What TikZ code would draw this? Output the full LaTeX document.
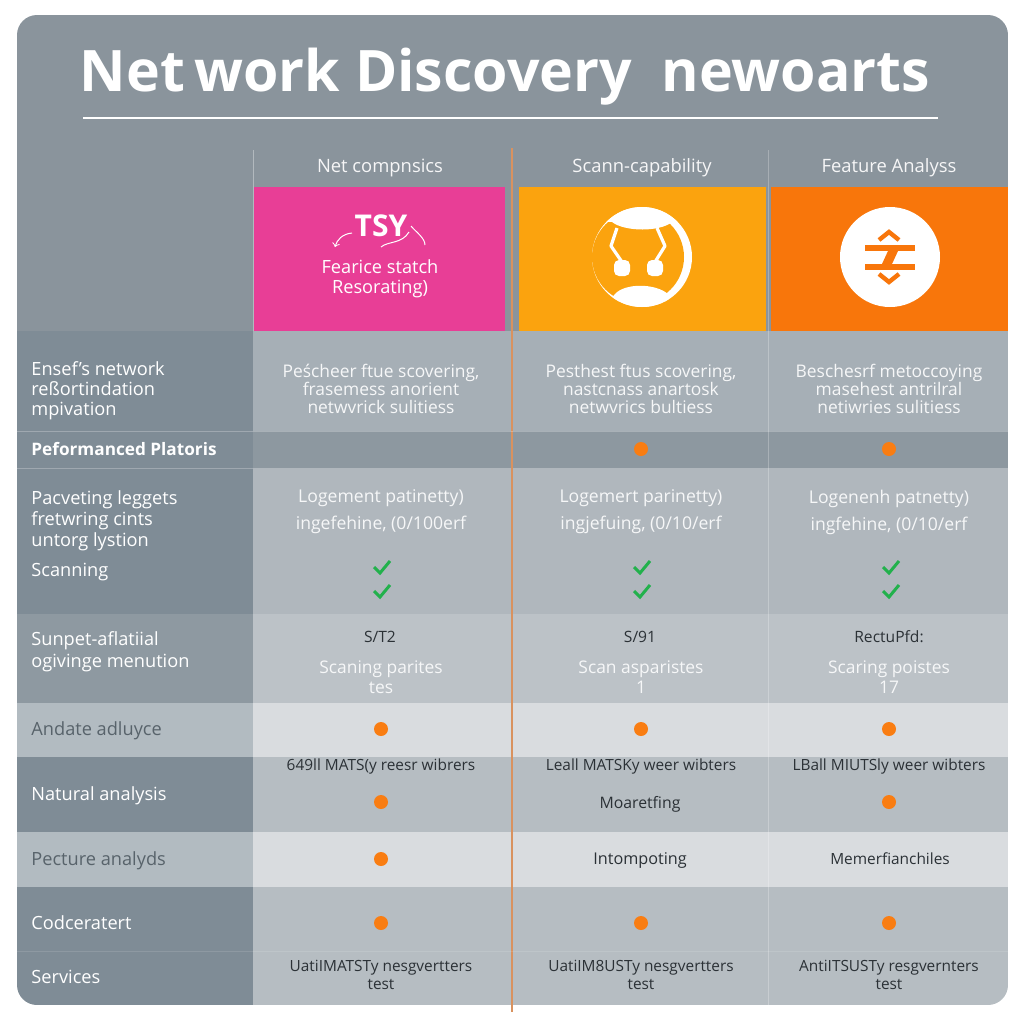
\documentclass[tikz,border=0pt]{standalone}
\usepackage{fontspec}
\setmainfont{Open Sans}
\usetikzlibrary{positioning, calc}
\definecolor{panelgrey}{HTML}{8A949C}
\definecolor{headdark}{HTML}{7F8C96}
\definecolor{headmid}{HTML}{8E99A1}
\definecolor{headlight}{HTML}{B2BBC1}
\definecolor{cellpale}{HTML}{A6AFB6}
\definecolor{cellflat}{HTML}{8D98A0}
\definecolor{cellsoft}{HTML}{B0B7BD}
\definecolor{cellmid}{HTML}{BCC2C7}
\definecolor{cellbright}{HTML}{D9DCDF}
\definecolor{cellcool}{HTML}{B6BDC2}
\definecolor{brandpink}{HTML}{E83E96}
\definecolor{brandamber}{HTML}{FBA30E}
\definecolor{brandorange}{HTML}{F8760B}
\definecolor{dotorange}{HTML}{F97D12}
\definecolor{tickgreen}{HTML}{22B14C}
\definecolor{splitline}{HTML}{D9925F}
\definecolor{inktext}{HTML}{2B3136}
\definecolor{greytext}{HTML}{58636B}
\tikzstyle{rowhead} = [rectangle, anchor=north west, minimum width=118pt, inner sep=0, outer sep=0]
\tikzstyle{cola} = [rectangle, minimum width=129.5pt, inner sep=0, outer sep=0]
\tikzstyle{colb} = [rectangle, minimum width=128pt, inner sep=0, outer sep=0]
\tikzstyle{colc} = [rectangle, minimum width=120pt, inner sep=0, outer sep=0]
\tikzstyle{rowlabel} = [anchor=west, align=left, font=\fontsize{9.1}{10}\selectfont, text=white, inner sep=0]
\tikzstyle{celltext} = [align=center, font=\fontsize{8.7}{9}\selectfont, text=white!90!cellpale, inner sep=0]
\tikzstyle{darktext} = [align=center, font=\fontsize{7.7}{9}\selectfont, text=inktext, inner sep=0]
\tikzstyle{coltitle} = [font=\fontsize{9.2}{10}\selectfont, text=white!92!panelgrey, inner sep=0]
\tikzstyle{dot} = [circle, fill=dotorange, minimum size=7pt, inner sep=0]
\tikzstyle{rowline} = [white, opacity=0.25, line width=0.5pt]
\tikzset{tickmark/.pic={\draw[tickgreen, line width=1.5pt] (-8,0) -- (-2,6) -- (8,-6);}}

\begin{document}
\begin{tikzpicture}[x=0.5pt, y=-0.5pt]
    \useasboundingbox (0,0) rectangle (1024,1024);
    \begin{scope}
        \clip[rounded corners=10pt] (17,15) rectangle (1008,1005);
        \fill[panelgrey] (17,15) rectangle (1008,331);

        % Row heads
        \node[rowhead, fill=headdark, minimum height=50pt] (h1) at (17,331) {};
        \node[rowhead, fill=headdark, minimum height=18.5pt, below=0pt of h1] (h2) {};
        \node[rowhead, fill=headdark, minimum height=73pt, below=0pt of h2] (h3) {};
        \node[rowhead, fill=headmid, minimum height=44.5pt, below=0pt of h3] (h4) {};
        \node[rowhead, fill=headlight, minimum height=27pt, below=0pt of h4] (h5) {};
        \node[rowhead, fill=headdark, minimum height=37.5pt, below=0pt of h5] (h6) {};
        \node[rowhead, fill=headlight, minimum height=27.5pt, below=0pt of h6] (h7) {};
        \node[rowhead, fill=headdark, minimum height=32pt, below=0pt of h7] (h8) {};
        \node[rowhead, fill=headdark, minimum height=27pt, below=0pt of h8] (h9) {};

        % Cells, one row at a time
        \foreach \r/\tone/\rowh in {1/cellpale/50pt, 2/cellflat/18.5pt, 3/cellsoft/73pt, 4/cellmid/44.5pt, 5/cellbright/27pt, 6/cellcool/37.5pt, 7/cellbright/27.5pt, 8/cellcool/32pt, 9/cellcool/27pt} {
            \node[cola, fill=\tone, minimum height=\rowh, right=0pt of h\r] (a\r) {};
            \node[colb, fill=\tone, minimum height=\rowh, right=0pt of a\r] (b\r) {};
            \node[colc, fill=\tone, minimum height=\rowh, right=0pt of b\r] (c\r) {};
        }

        % Colour blocks
        \fill[brandpink] (254,187) rectangle (505,331);
        \fill[brandamber] (519,187) rectangle (766,331);
        \fill[brandorange] (771,187) rectangle (1008,331);
    \end{scope}

    % Title
    \node[font=\fontsize{28.6}{32}\selectfont\bfseries, text=white, inner sep=0] (title) at (505,77) {Net\,work Discovery\ \ newoarts};
    \coordinate (ruleL) at (83,118);
    \coordinate (ruleR) at (938,118);
    \draw[white, line width=1pt] (ruleL) -- (ruleR);

    % Column titles
    \node[coltitle] (t1) at (380,168) {Net compnsics};
    \node[coltitle] (t2) at (642,168) {Scann-capability};
    \node[coltitle] (t3) at (889,168) {Feature Analyss};

    % Column lines
    \coordinate (lineA) at (253,150);
    \coordinate (lineC) at (768,150);
    \coordinate (lineB) at (512,148);
    \coordinate (lineBend) at (512,1012);
    \draw[rowline, opacity=0.35] (lineA) -- (h1.north east);
    \draw[rowline] (lineC) -- (c9.south west);
    \draw[splitline, line width=0.7pt] (lineB) -- (lineBend);

    % Row lines
    \draw[rowline] (h1.south west) -- (c1.south east);
    \draw[rowline] (h2.south west) -- (h2.south east);
    \draw[rowline, opacity=0.12] (h8.south west) -- (c8.south east);

    % Pink icon
    \node[font=\fontsize{15}{16}\selectfont\bfseries, text=white, inner sep=0] (tsy) at (381,226) {TSY};
    \draw[white, line width=0.5pt, -{>[scale=0.6]}] (352,233) .. controls (342,234) and (337,240) .. (335,247);
    \draw[white, line width=0.5pt] (381,247) .. controls (388,241) and (402,244) .. (409,232);
    \draw[white, line width=0.5pt] (411,226) .. controls (416,232) and (425,238) .. (425,245);
    \node[font=\fontsize{9.1}{10}\selectfont, align=center, text=white, inner sep=0] (pinktext) at (380,279) {Fearice statch\\Resorating)};

    % Amber icon
    \fill[white] (642,257) circle (50);
    \begin{scope}
        \clip (642,257) circle (50);
        \fill[brandamber] (638,257) circle (46);
        \fill[white] (590,200) rectangle (700,222);
        \fill[white] (612,222) .. controls (625,232) and (660,232) .. (672,222) -- cycle;
        \fill[white] (610,300) -- (615,294) .. controls (625,283) and (655,283) .. (668,294) -- (672,310) -- (610,310) -- cycle;
    \end{scope}
    \draw[white, line width=1.6pt, line join=round] (617,228) -- (611,246) -- (622,262);
    \draw[white, line width=1.6pt, line join=round] (657,228) -- (665,246) -- (655,262);
    \fill[white, rounded corners=2.5pt] (614,260) rectangle (630,276);
    \fill[white, rounded corners=2.5pt] (647,260) rectangle (663,276);

    % Orange icon
    \fill[white] (890,257) circle (50);
    \fill[brandorange] (865,245) rectangle (915,251);
    \fill[brandorange] (865,264) rectangle (915,270);
    \draw[brandorange, line width=2.2pt] (879,240) -- (889,232) -- (899,240);
    \draw[brandorange, line width=2.2pt] (879,274) -- (889,282) -- (899,274);
    \fill[brandorange] (888,251) -- (898,251) -- (892,264) -- (882,264) -- cycle;

    % Row labels
    \node[rowlabel] (l1) at (31,391) {Ensef's network\\reßortindation\\mpivation};
    \node[rowlabel, font=\fontsize{8.6}{10}\selectfont\bfseries] (l2) at (31,449) {Peformanced Platoris};
    \node[rowlabel, font=\fontsize{9.1}{10.6}\selectfont] (l3) at (31,521) {Pacveting leggets\\fretwring cints\\untorg lystion};
    \node[rowlabel] (l3b) at (31,572) {Scanning};
    \node[rowlabel, font=\fontsize{9.1}{11}\selectfont] (l4) at (31,652) {Sunpet-aflatiial\\ogivinge menution};
    \node[rowlabel, text=greytext] (l5) at (31,731) {Andate adluyce};
    \node[rowlabel] (l6) at (31,796) {Natural analysis};
    \node[rowlabel, text=greytext] (l7) at (31,861) {Pecture analyds};
    \node[rowlabel] (l8) at (31,923) {Codcerater\rlap{t}};
    \node[rowlabel] (l9) at (31,977) {Services};

    % Row 1 text
    \node[celltext] (ta1) at (381,389) {Peścheer ftue scovering,\\frasemess anorient\\netwvrick sulitiess};
    \node[celltext] (tb1) at (641,389) {Pesthest ftus scovering,\\nastcnass anartosk\\netwvrics bultiess};
    \node[celltext] (tc1) at (889,389) {Beschesrf metoccoying\\masehest antrilral\\netiwries sulitiess};

    % Row 2 dots
    \node[dot] (db2) at (641,449) {};
    \node[dot] (dc2) at (889,449) {};

    % Row 3 text and ticks
    \node[celltext, font=\fontsize{8.8}{13.5}\selectfont] (ta3) at (381,512) {Logement patinetty)\\ingefehine, (0/100erf};
    \node[celltext, font=\fontsize{8.8}{13.5}\selectfont] (tb3) at (641,512) {Logemert parinetty)\\ingjefuing, (0/10/erf};
    \node[celltext, font=\fontsize{8.8}{13.5}\selectfont] (tc3) at (889,512) {Logenenh patnetty)\\ingfehine, (0/10/erf};
    \foreach \cx in {382,642,891} {
        \pic at (\cx,567) {tickmark};
        \pic at (\cx,591) {tickmark};
    }

    % Row 4 text
    \node[darktext, font=\fontsize{7.8}{9}\selectfont] (ta4) at (380,637) {S/T2};
    \node[darktext, font=\fontsize{7.8}{9}\selectfont] (tb4) at (640,637) {S/91};
    \node[darktext, font=\fontsize{7.8}{9}\selectfont] (tc4) at (889,637) {RectuPfd:};
    \node[celltext, font=\fontsize{8.7}{10}\selectfont] (ua4) at (381,677) {Scaning parites\\tes};
    \node[celltext, font=\fontsize{8.7}{10}\selectfont] (ub4) at (641,677) {Scan asparistes\\1};
    \node[celltext, font=\fontsize{8.7}{10}\selectfont] (uc4) at (889,677) {Scaring poistes\\17};

    % Row 5 dots
    \node[dot] (da5) at (381,729) {};
    \node[dot] (db5) at (641,729) {};
    \node[dot] (dc5) at (889,729) {};

    % Row 6
    \node[darktext] (ta6) at (381,766) {649ll MATS(y reesr wibrers};
    \node[darktext] (tb6) at (641,766) {Leall MATSKy weer wibters};
    \node[darktext] (tc6) at (889,766) {LBall MIUTSly weer wibters};
    \node[dot] (da6) at (381,802) {};
    \node[darktext, font=\fontsize{7.9}{9}\selectfont] (ub6) at (640,804) {Moaretfing};
    \node[dot] (dc6) at (889,802) {};

    % Row 7
    \node[dot] (da7) at (381,859) {};
    \node[darktext, font=\fontsize{8.1}{9}\selectfont] (tb7) at (640,860) {Intompoting};
    \node[darktext] (tc7) at (890,859) {Memerfianchiles};

    % Row 8 dots
    \node[dot] (da8) at (381,923) {};
    \node[dot] (db8) at (641,923) {};
    \node[dot] (dc8) at (889,923) {};

    % Row 9 text
    \node[darktext] (ta9) at (381,975) {UatiIMATSTy nesgvertters\\test};
    \node[darktext] (tb9) at (641,975) {UatiIM8USTy nesgvertters\\test};
    \node[darktext] (tc9) at (889,975) {AntiITSUSTy resgvernters\\test};
\end{tikzpicture}
\end{document}
